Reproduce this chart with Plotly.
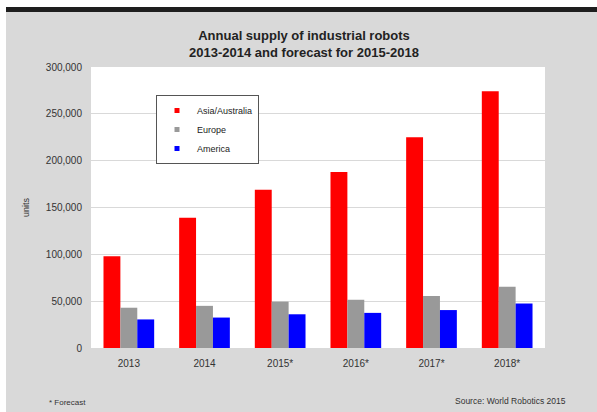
import plotly.graph_objects as go

categories = ["2013", "2014", "2015*", "2016*", "2017*", "2018*"]
asia = [98000, 139000, 169000, 188000, 225000, 274000]
europe = [43000, 45000, 49500, 51500, 55500, 65500]
america = [30500, 32500, 36000, 37500, 40500, 47500]
series_names = ["Asia/Australia", "Europe", "America"]
series_colors = ["#ff0000", "#999999", "#0000ff"]
y_ticks = [0, 50000, 100000, 150000, 200000, 250000, 300000]

FONT = "Liberation Sans, Arial, sans-serif"
W, H = 597, 412
L, R, T, B = 91, 52, 67, 64
pw, ph = W - L - R, H - T - B


def px_x(p):
    return (p - L) / pw


def px_y(q):
    return (H - B - q) / ph


fig = go.Figure()
for name, vals, col in zip(series_names, [asia, europe, america], series_colors):
    fig.add_trace(go.Bar(x=categories, y=vals, name=name, marker_color=col,
                         marker_line_width=0, showlegend=False))
# legend entries with small square swatches
for name, col in zip(series_names, series_colors):
    fig.add_trace(go.Scatter(x=[None], y=[None], mode="markers", name=name,
                             marker=dict(symbol="square", size=5, color=col)))

fig.update_layout(
    width=W, height=H,
    margin=dict(l=L, r=R, t=T, b=B),
    paper_bgcolor="#d9d9d9",
    plot_bgcolor="#ffffff",
    barmode="group", bargap=0.33, bargroupgap=0,
    font=dict(family=FONT, color="#333333", size=10),
    title=dict(
        text="<b>Annual supply of industrial robots</b><br><b>2013-2014 and forecast for 2015-2018</b>",
        font=dict(family=FONT, size=13, color="#222222"),
        x=304 / W, xanchor="center", xref="container",
        y=1 - 40 / H, yanchor="middle", yref="container",
    ),
    legend=dict(
        x=px_x(156), y=px_y(95), xanchor="left", yanchor="top",
        bgcolor="#ffffff", bordercolor="#555555", borderwidth=1,
        font=dict(family=FONT, size=9, color="#222222"),
        itemwidth=30, tracegroupgap=0,
    ),
    xaxis=dict(showgrid=False, zeroline=False, showline=False, ticks="",
               ticklabelstandoff=8, tickfont=dict(size=10, color="#333333")),
    yaxis=dict(range=[0, 300000], tickvals=y_ticks, tickformat=",",
               showgrid=True, gridcolor="#d9d9d9", gridwidth=1,
               zeroline=False, showline=False, ticks="",
               ticklabelstandoff=8, tickfont=dict(size=10, color="#333333"),
               title=dict(text="units", font=dict(size=9, color="#333333"), standoff=14)),
    shapes=[
        # white page strips
        dict(type="rect", xref="paper", yref="paper", x0=px_x(0), x1=px_x(6),
             y0=px_y(H), y1=px_y(0), fillcolor="#ffffff", line_width=0, layer="above"),
        dict(type="rect", xref="paper", yref="paper", x0=px_x(0), x1=px_x(W),
             y0=px_y(7), y1=px_y(0), fillcolor="#ffffff", line_width=0, layer="above"),
        # dark band
        dict(type="rect", xref="paper", yref="paper", x0=px_x(6), x1=px_x(W),
             y0=px_y(12), y1=px_y(7), fillcolor="#1e1e1e", line_width=0, layer="above"),
    ],
    annotations=[
        dict(text="* Forecast", xref="paper", yref="paper", x=px_x(47), y=px_y(402),
             xanchor="left", yanchor="middle", showarrow=False,
             font=dict(size=8, color="#333333")),
        dict(text="Source: World Robotics 2015", xref="paper", yref="paper",
             x=px_x(568), y=px_y(401), xanchor="right", yanchor="middle", showarrow=False,
             font=dict(size=8.5, color="#333333")),
    ],
)

fig.write_html("out.html")
